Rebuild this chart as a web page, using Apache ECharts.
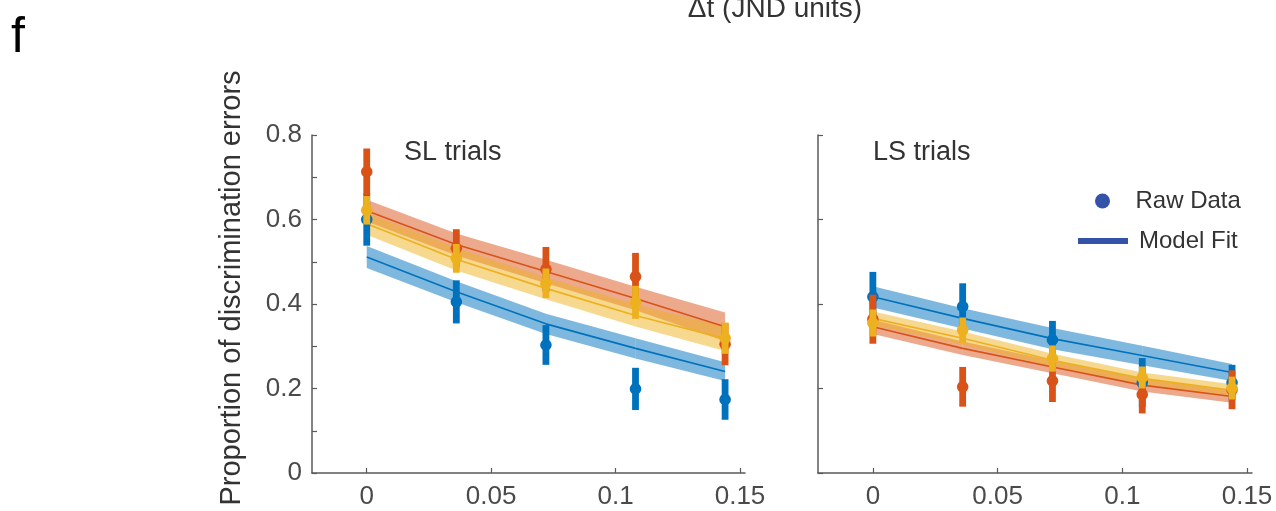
<!DOCTYPE html>
<html>
<head>
<meta charset="utf-8">
<script src="https://cdn.jsdelivr.net/npm/echarts@6/dist/echarts.min.js"></script>
<style>
html,body{margin:0;padding:0;background:#fff;}
#chart{width:1276px;height:511px;}
</style>
</head>
<body>
<div id="chart"></div>
<script>
// ---- data ----
const xValues = [0, 0.036, 0.072, 0.108, 0.144];
const xTickLabels = [0, 0.05, 0.1, 0.15];
const yTickLabels = [0, 0.2, 0.4, 0.6, 0.8];
const yMinorTicks = [0, 0.1, 0.2, 0.3, 0.4, 0.5, 0.6, 0.7, 0.8];
const panelTitles = ['SL trials', 'LS trials'];

// SL trials (left panel) raw data: mean and error half-length
const slBlueMean   = [0.600, 0.405, 0.303, 0.199, 0.174];
const slBlueErr    = [0.062, 0.051, 0.047, 0.050, 0.048];
const slOrangeMean = [0.713, 0.532, 0.482, 0.465, 0.305];
const slOrangeErr  = [0.055, 0.045, 0.053, 0.056, 0.050];
const slYellowMean = [0.622, 0.508, 0.449, 0.404, 0.319];
const slYellowErr  = [0.034, 0.034, 0.035, 0.039, 0.037];
// SL model fit and band half-width
const slBlueFit    = [0.511, 0.429, 0.353, 0.295, 0.240];
const slBlueBand   = [0.026, 0.025, 0.024, 0.024, 0.022];
const slOrangeFit  = [0.621, 0.541, 0.477, 0.413, 0.346];
const slOrangeBand = [0.026, 0.026, 0.028, 0.028, 0.034];
const slYellowFit  = [0.590, 0.506, 0.437, 0.373, 0.318];
const slYellowBand = [0.026, 0.027, 0.026, 0.026, 0.029];

// LS trials (right panel) raw data
const lsBlueMean   = [0.417, 0.394, 0.315, 0.214, 0.214];
const lsBlueErr    = [0.059, 0.055, 0.045, 0.058, 0.042];
const lsOrangeMean = [0.364, 0.204, 0.218, 0.186, 0.197];
const lsOrangeErr  = [0.058, 0.047, 0.050, 0.045, 0.046];
const lsYellowMean = [0.355, 0.338, 0.271, 0.226, 0.201];
const lsYellowErr  = [0.032, 0.030, 0.031, 0.026, 0.027];
// LS model fit and band half-width
const lsBlueFit    = [0.417, 0.366, 0.318, 0.278, 0.238];
const lsBlueBand   = [0.025, 0.024, 0.025, 0.023, 0.020];
const lsOrangeFit  = [0.346, 0.295, 0.251, 0.208, 0.181];
const lsOrangeBand = [0.017, 0.016, 0.015, 0.015, 0.015];
const lsYellowFit  = [0.366, 0.319, 0.267, 0.224, 0.196];
const lsYellowBand = [0.016, 0.016, 0.015, 0.014, 0.014];

// ---- style ----
const BLUE = '#0072BD', ORANGE = '#D95319', YELLOW = '#EDB120';
const BLUE_A = 'rgba(0,114,189,0.5)', ORANGE_A = 'rgba(217,83,25,0.5)', YELLOW_A = 'rgba(237,177,32,0.5)';
const LEGEND_BLUE = '#3452a8';
const FONT = '"Liberation Sans", Arial, Helvetica, sans-serif';
const AXIS_GREY = '#5a5a5a';
const LABEL_GREY = '#4a4a4a';

function bandSeries(gi, fit, band, color) {
  const data = xValues.map((x, i) => [x, fit[i] - band[i], fit[i] + band[i]]);
  return {
    type: 'custom', xAxisIndex: gi, yAxisIndex: gi, silent: true, z: 1,
    data: data,
    renderItem: function (params, api) {
      const i = params.dataIndex;
      if (i >= data.length - 1) return null;
      const a = data[i], b = data[i + 1];
      const p1 = api.coord([a[0], a[2]]), p2 = api.coord([b[0], b[2]]);
      const p3 = api.coord([b[0], b[1]]), p4 = api.coord([a[0], a[1]]);
      return { type: 'polygon', shape: { points: [p1, p2, p3, p4] }, style: { fill: color } };
    }
  };
}
function lineSeries(gi, fit, color) {
  return {
    type: 'line', xAxisIndex: gi, yAxisIndex: gi, silent: true, z: 2,
    data: xValues.map((x, i) => [x, fit[i]]),
    symbol: 'none', lineStyle: { color: color, width: 1.6 }
  };
}
function errSeries(gi, mean, err, color, z) {
  return {
    type: 'custom', xAxisIndex: gi, yAxisIndex: gi, silent: true, z: z,
    data: xValues.map((x, i) => [x, mean[i], mean[i] - err[i], mean[i] + err[i]]),
    renderItem: function (params, api) {
      const c = api.coord([api.value(0), api.value(1)]);
      const lo = api.coord([api.value(0), api.value(2)]);
      const hi = api.coord([api.value(0), api.value(3)]);
      return {
        type: 'group',
        children: [
          { type: 'rect', shape: { x: c[0] - 3.4, y: hi[1], width: 6.8, height: lo[1] - hi[1] }, style: { fill: color } },
          { type: 'circle', shape: { cx: c[0], cy: c[1], r: 5.8 }, style: { fill: color } }
        ]
      };
    }
  };
}

const xAxisBase = {
  type: 'value', min: -0.022, max: 0.152,
  axisLine: { show: true, onZero: false, lineStyle: { color: AXIS_GREY, width: 1.5 } },
  axisTick: { show: true, inside: true, length: 5, customValues: xTickLabels, lineStyle: { color: AXIS_GREY, width: 1.2 } },
  axisLabel: { customValues: xTickLabels, fontSize: 26, fontFamily: FONT, color: LABEL_GREY, margin: 11 },
  splitLine: { show: false }
};

const chart = echarts.init(document.getElementById('chart'), null, { renderer: 'canvas' });
chart.setOption({
  backgroundColor: '#fff',
  animation: false,
  title: [
    { text: 'f', left: 6, top: 8, textStyle: { fontSize: 50, fontWeight: 'normal', color: '#000', fontFamily: FONT } },
    { text: panelTitles[0], left: 399, top: 134, textStyle: { fontSize: 27, fontWeight: 'normal', color: '#333', fontFamily: FONT } },
    { text: panelTitles[1], left: 868, top: 134, textStyle: { fontSize: 27, fontWeight: 'normal', color: '#333', fontFamily: FONT } }
  ],
  graphic: [
    { type: 'text', x: 775, y: 9, style: { text: 'Δt (JND units)', font: '28px ' + FONT, fill: '#333', align: 'center', verticalAlign: 'middle' } }
  ],
  legend: [
    { data: [{ name: 'Raw Data', icon: 'circle' }], left: 1090, top: 184, itemWidth: 52, itemHeight: 15,
      textStyle: { fontSize: 24, fontFamily: FONT, color: '#333', padding: [0, 0, 0, 2] }, selectedMode: false },
    { data: [{ name: 'Model Fit', icon: 'rect' }], left: 1073, top: 224, itemWidth: 50, itemHeight: 6,
      textStyle: { fontSize: 24, fontFamily: FONT, color: '#333', padding: [0, 0, 0, 6] }, selectedMode: false }
  ],
  grid: [
    { left: 312, top: 135, width: 433, height: 338, outerBoundsMode: 'none', containLabel: false },
    { left: 818, top: 135, width: 434, height: 338, outerBoundsMode: 'none', containLabel: false }
  ],
  xAxis: [
    Object.assign({ gridIndex: 0 }, xAxisBase),
    Object.assign({ gridIndex: 1 }, xAxisBase)
  ],
  yAxis: [
    { gridIndex: 0, type: 'value', min: 0, max: 0.8,
      name: 'Proportion of discrimination errors', nameLocation: 'middle', nameRotate: 90, nameGap: 66,
      nameTextStyle: { fontSize: 29, fontFamily: FONT, color: '#333', padding: [0, 0, 0, 32] },
      axisLine: { show: true, onZero: false, lineStyle: { color: AXIS_GREY, width: 1.5 } },
      axisTick: { show: true, inside: true, length: 5, customValues: yMinorTicks, lineStyle: { color: AXIS_GREY, width: 1.2 } },
      axisLabel: { customValues: yTickLabels, fontSize: 26, fontFamily: FONT, color: LABEL_GREY, margin: 10 },
      splitLine: { show: false } },
    { gridIndex: 1, type: 'value', min: 0, max: 0.8,
      axisLine: { show: true, onZero: false, lineStyle: { color: AXIS_GREY, width: 1.5 } },
      axisTick: { show: true, inside: true, length: 5, customValues: yTickLabels, lineStyle: { color: AXIS_GREY, width: 1.2 } },
      axisLabel: { show: false },
      splitLine: { show: false } }
  ],
  series: [
    bandSeries(0, slBlueFit, slBlueBand, BLUE_A),
    bandSeries(0, slOrangeFit, slOrangeBand, ORANGE_A),
    bandSeries(0, slYellowFit, slYellowBand, YELLOW_A),
    lineSeries(0, slBlueFit, BLUE),
    lineSeries(0, slOrangeFit, ORANGE),
    lineSeries(0, slYellowFit, YELLOW),
    errSeries(0, slBlueMean, slBlueErr, BLUE, 3),
    errSeries(0, slOrangeMean, slOrangeErr, ORANGE, 4),
    errSeries(0, slYellowMean, slYellowErr, YELLOW, 5),

    bandSeries(1, lsBlueFit, lsBlueBand, BLUE_A),
    bandSeries(1, lsOrangeFit, lsOrangeBand, ORANGE_A),
    bandSeries(1, lsYellowFit, lsYellowBand, YELLOW_A),
    lineSeries(1, lsBlueFit, BLUE),
    lineSeries(1, lsOrangeFit, ORANGE),
    lineSeries(1, lsYellowFit, YELLOW),
    errSeries(1, lsBlueMean, lsBlueErr, BLUE, 3),
    errSeries(1, lsOrangeMean, lsOrangeErr, ORANGE, 4),
    errSeries(1, lsYellowMean, lsYellowErr, YELLOW, 5),

    { name: 'Raw Data', type: 'scatter', xAxisIndex: 1, yAxisIndex: 1, data: [], itemStyle: { color: LEGEND_BLUE, opacity: 1 } },
    { name: 'Model Fit', type: 'scatter', xAxisIndex: 1, yAxisIndex: 1, data: [], itemStyle: { color: LEGEND_BLUE, opacity: 1 } }
  ]
});
</script>
</body>
</html>
